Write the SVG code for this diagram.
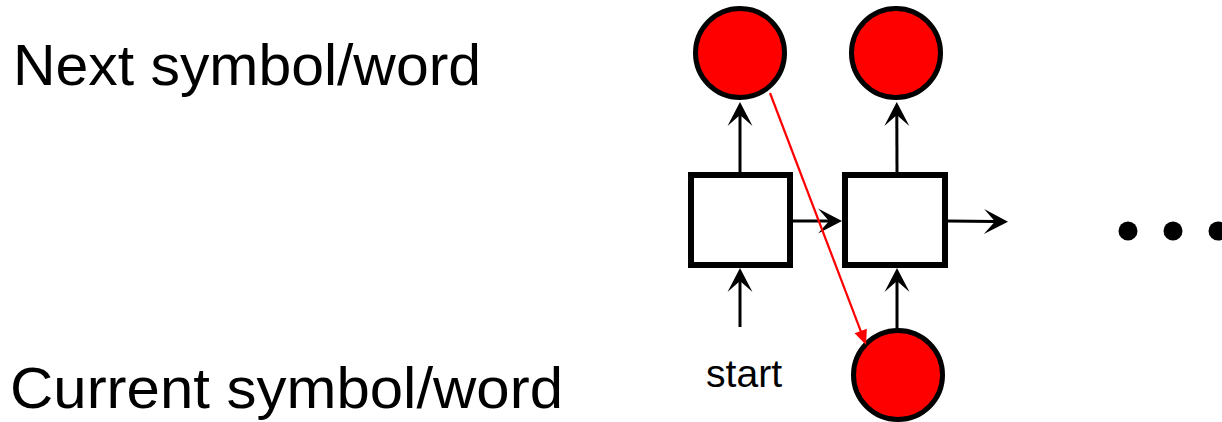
<svg xmlns="http://www.w3.org/2000/svg" width="1222" height="422" viewBox="0 0 1222 422">
<style>
.lbl{font-family:"Liberation Sans","Open Sans",Arial,sans-serif;fill:#000}
.big{font-size:58px}
.small{font-size:38px}
.tok{fill:#ff0000;stroke:#000;stroke-width:5}
.cell{fill:#fff;stroke:#000;stroke-width:6}
.conn{fill:none;stroke:#000;stroke-width:3}
.red{fill:none;stroke:#ff0000;stroke-width:2.2}
.dot{fill:#000}
</style>
<defs>
<marker id="ah" markerUnits="userSpaceOnUse" viewBox="-26 -14 28 28" markerWidth="28" markerHeight="28" refX="-13" refY="0" orient="auto">
<path d="M0,0 L-24,-12.5 L-13,0 L-24,12.5 Z" fill="#000"/>
</marker>
<marker id="ahr" markerUnits="userSpaceOnUse" viewBox="-16 -8 18 16" markerWidth="18" markerHeight="16" refX="-12" refY="0" orient="auto">
<path d="M0,0 L-15,-6.5 L-15,6.5 Z" fill="#ff0000"/>
</marker>
</defs>
<g id="label-next"><text class="lbl big" x="13" y="85" textLength="468" lengthAdjust="spacingAndGlyphs">Next symbol/word</text></g>
<g id="label-current"><text class="lbl big" x="10" y="408" textLength="553" lengthAdjust="spacingAndGlyphs">Current symbol/word</text></g>
<g id="out1"><circle class="tok" cx="740" cy="53" r="44.5"/></g>
<g id="out2"><circle class="tok" cx="896" cy="53" r="44.5"/></g>
<g id="in2"><circle class="tok" cx="898" cy="375" r="44.5"/></g>
<g id="cell1"><rect class="cell" x="691" y="175" width="99" height="90"/></g>
<g id="cell2"><rect class="cell" x="845" y="175" width="100" height="90"/></g>
<g id="start"><text class="lbl small" x="706" y="387" textLength="76" lengthAdjust="spacingAndGlyphs">start</text></g>
<g id="ellipsis">
<circle class="dot" cx="1128" cy="231" r="9.5"/>
<circle class="dot" cx="1173" cy="231" r="9.5"/>
<circle class="dot" cx="1218" cy="231" r="9.5"/>
</g>
<g id="connectors">
<path class="conn" d="M740,172 L740,115" marker-end="url(#ah)"/>
<path class="conn" d="M897,172 L896.8,115" marker-end="url(#ah)"/>
<path class="conn" d="M793,221 L829,221" marker-end="url(#ah)"/>
<path class="conn" d="M948,221 L995,221.5" marker-end="url(#ah)"/>
<path class="conn" d="M740,327 L740,281" marker-end="url(#ah)"/>
<path class="conn" d="M897,329 L897,281" marker-end="url(#ah)"/>
<path class="red" d="M770,93 L861.8,333.8" marker-end="url(#ahr)"/>
</g>
</svg>
